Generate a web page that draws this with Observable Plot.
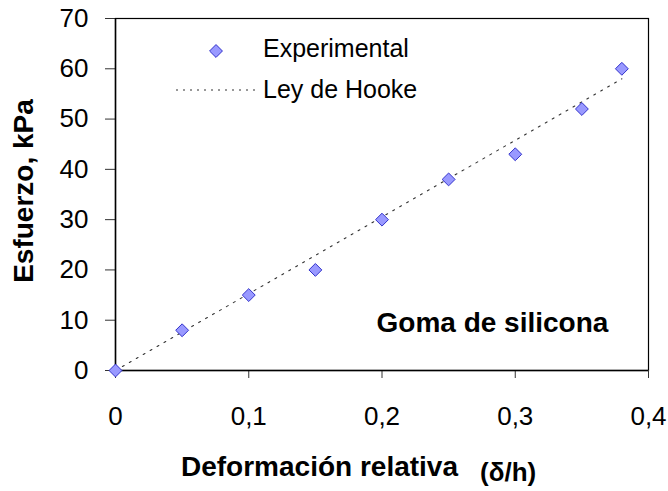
<!DOCTYPE html>
<html>
<head>
<meta charset="utf-8">
<script src="https://cdn.jsdelivr.net/npm/d3@7"></script>
<script src="https://cdn.jsdelivr.net/npm/@observablehq/plot@0.6"></script>
<style>
  html, body { margin: 0; padding: 0; background: #fff; }
  svg { font-family: "Liberation Sans", Arial, sans-serif; }
</style>
</head>
<body>
<div id="chart"></div>
<script>
// Data
const deformacion = [0, 0.05, 0.10, 0.15, 0.20, 0.25, 0.30, 0.35, 0.38];
const esfuerzo    = [0, 8, 15, 20, 30, 38, 43, 52, 60];
const hookeX = [0, 0.38];
const hookeY = [0, 58];
const xTicks = [0, 0.1, 0.2, 0.3, 0.4];
const yTicks = [0, 10, 20, 30, 40, 50, 60, 70];
const legendLabels = ["Experimental", "Ley de Hooke"];
const annotation = "Goma de silicona";
const xTitle = "Deformación relativa";
const xTitleUnit = "(δ/h)";
const yTitle = "Esfuerzo, kPa";

const points = deformacion.map((d, i) => ({x: d, y: esfuerzo[i]}));
const hooke = hookeX.map((d, i) => ({x: d, y: hookeY[i]}));
const fmt = d => String(d).replace(".", ",");

const W = 668, H = 491;
const mL = 115, mR = 20, mT = 18, mB = 121;

const plot = Plot.plot({
  width: W, height: H,
  marginLeft: mL, marginRight: mR, marginTop: mT, marginBottom: mB,
  style: {fontFamily: "'Liberation Sans', Arial, sans-serif", background: "#fff", overflow: "visible"},
  x: {domain: [0, 0.4]},
  y: {domain: [0, 70]},
  marks: [
    Plot.frame({stroke: "#000", strokeWidth: 1.2}),
    Plot.axisX({ticks: xTicks, tickFormat: fmt, tickSize: 8, tickPadding: 28, fontSize: 26, label: null, stroke: "#333", color: "#000"}),
    Plot.axisY({ticks: yTicks, tickSize: 10, tickPadding: 17, fontSize: 26, label: null, stroke: "#333", color: "#000"}),
    Plot.ruleY([0], {stroke: "#000", strokeWidth: 1.5}),
    Plot.ruleX([0], {stroke: "#000", strokeWidth: 1.5}),
    Plot.line(hooke, {x: "x", y: "y", stroke: "#333", strokeWidth: 1.1, strokeDasharray: "2,6"}),
    Plot.dot(points, {x: "x", y: "y", symbol: "diamond2", r: 5.8, fill: "#9999FF", stroke: "#3333CC", strokeWidth: 1}),
    Plot.text([annotation], {frameAnchor: "top-left", dx: 376 - mL, dy: 312 - mT, text: d => d, textAnchor: "start", fontSize: 28, fontWeight: "bold", fill: "#000"}),
  ]
});

const svg = d3.select(plot);
// Legend
svg.append("path")
  .attr("d", d3.symbol(d3.symbolDiamond2, Math.PI * 5.8 * 5.8)())
  .attr("transform", "translate(216,51)")
  .attr("fill", "#9999FF").attr("stroke", "#3333CC");
svg.append("line")
  .attr("x1", 176).attr("x2", 257).attr("y1", 90).attr("y2", 90)
  .attr("stroke", "#333").attr("stroke-width", 1.1).attr("stroke-dasharray", "2,5");
svg.selectAll("text.leg").data(legendLabels).join("text")
  .attr("class", "leg")
  .attr("x", 263).attr("y", (d, i) => 48 + i * 41)
  .attr("dy", "0.35em").attr("text-anchor", "start")
  .attr("font-size", 25).attr("fill", "#000")
  .text(d => d);
// Axis titles
svg.append("text")
  .attr("x", 181).attr("y", 466).attr("dy", "0.35em").attr("text-anchor", "start")
  .attr("font-size", 28).attr("font-weight", "bold").attr("fill", "#000")
  .text(xTitle);
svg.append("text")
  .attr("x", 480).attr("y", 472).attr("dy", "0.35em").attr("text-anchor", "start")
  .attr("font-size", 26).attr("font-weight", "bold").attr("fill", "#000")
  .text(xTitleUnit);
svg.append("text")
  .attr("transform", "translate(23,191) rotate(-90)")
  .attr("text-anchor", "middle").attr("dy", "0.35em")
  .attr("font-size", 28).attr("font-weight", "bold").attr("fill", "#000")
  .text(yTitle);

document.getElementById("chart").appendChild(plot);
</script>
</body>
</html>
